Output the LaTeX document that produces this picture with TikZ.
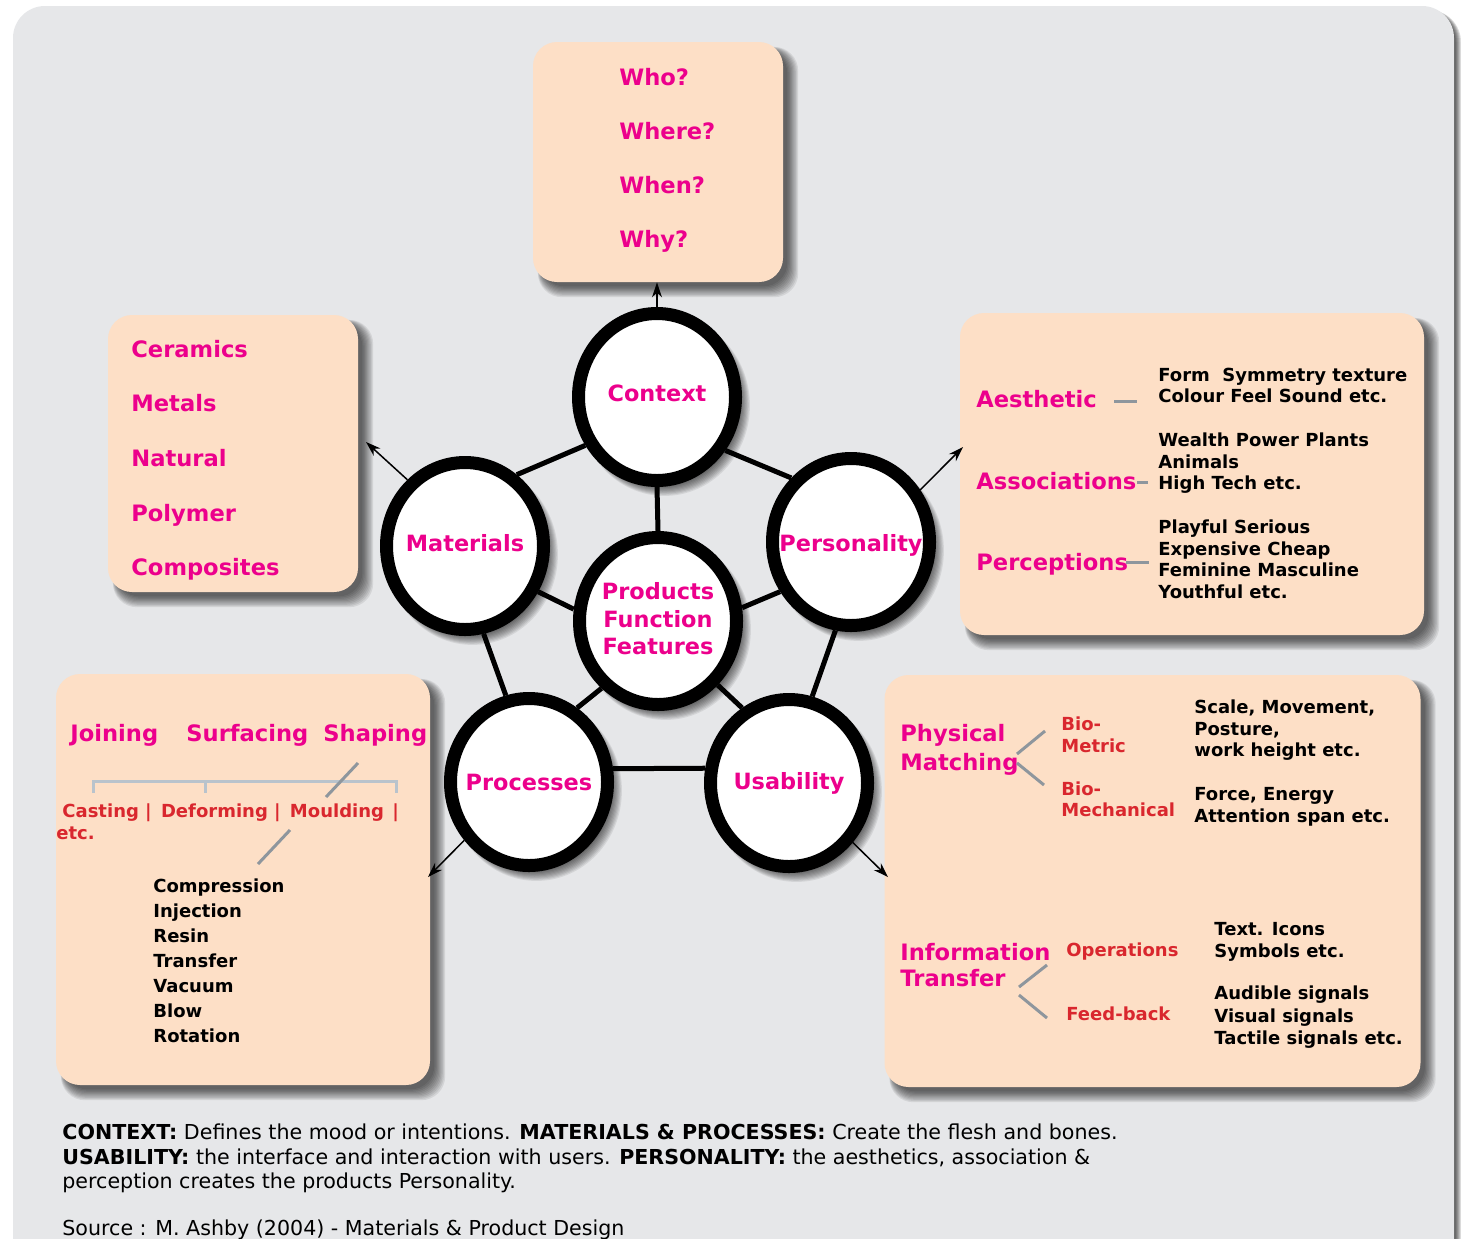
\documentclass[tikz,border=0pt]{standalone}
\usepackage{fontspec}
\setmainfont{DejaVu Sans}
\usetikzlibrary{arrows.meta,shapes.geometric,calc}
\pgfdeclarelayer{card}
\pgfdeclarelayer{shade}
\pgfsetlayers{card,shade,main}

\definecolor{pagegray}{HTML}{E6E7E9}
\definecolor{peach}{HTML}{FDDFC6}
\definecolor{hotpink}{HTML}{EC008C}
\definecolor{brick}{HTML}{D9272E}
\definecolor{twiggray}{HTML}{8E969D}
\definecolor{bracegray}{HTML}{B9C3CC}

\tikzset{
  panel/.style={fill=peach, rounded corners=12pt, inner sep=0pt},
  hub/.style={ellipse, draw=black, line width=6.5pt, fill=white, inner sep=0pt,
    minimum width=78.5pt, minimum height=83.5pt},
  hublabel/.style={text=hotpink, align=center, inner sep=0pt,
    font=\fontsize{11.2}{13.75}\selectfont\bfseries},
  softshade/.style={black, opacity=0.08},
  headtxt/.style={anchor=base west, inner sep=0pt, text=hotpink, font=\fontsize{11.3}{13}\selectfont\bfseries},
  subtxt/.style={anchor=base west, inner sep=0pt, text=brick, font=\fontsize{9}{11}\selectfont\bfseries},
  itemtxt/.style={anchor=base west, inner sep=0pt, text=black, font=\fontsize{9}{11}\selectfont\bfseries},
  notetxt/.style={anchor=base west, inner sep=0pt, text=black, font=\fontsize{10.3}{12.5}\selectfont},
  spoke/.style={line width=2.5pt},
  pointer/.style={line width=0.75pt, -{Stealth[length=7.5pt,width=5pt]}},
  twig/.style={twiggray, line width=1.5pt},
  brace/.style={bracegray, line width=1.5pt},
}

\begin{document}
\begin{tikzpicture}[x=0.5pt,y=-0.5pt]
\useasboundingbox (0,0) rectangle (1461,1238);

% page and grey card with a dark right-hand edge shadow
\begin{pgfonlayer}{card}
  \fill[white] (0,0) rectangle (1461,1238);
  \foreach \k in {0,...,6}
    \fill[black, opacity=0.13, rounded corners=16pt] (40,10) rectangle (1455+\k,1300);
  \fill[pagegray, rounded corners=16pt] (13,6) rectangle (1454,1300);
\end{pgfonlayer}

% peach panels
\node[panel, minimum width=125pt, minimum height=120pt]   (whobox)  at (658,162) {};
\node[panel, minimum width=125pt, minimum height=138.5pt] (matbox)  at (233,453.5) {};
\node[panel, minimum width=232pt, minimum height=161pt]   (perbox)  at (1192,474) {};
\node[panel, minimum width=187pt, minimum height=205.5pt] (procbox) at (243,879.5) {};
\node[panel, minimum width=268pt, minimum height=206pt]   (usabox)  at (1152.5,881) {};

% the six hubs
\node[hub, label={[hublabel, yshift=2pt]center:Context}]       (ctx)  at (657,397) {};
\node[hub, label={[hublabel, yshift=1.5pt]center:Materials}]   (mat)  at (465,546) {};
\node[hub, label={[hublabel, yshift=-1.5pt]center:Personality}] (per) at (851,542) {};
\node[hub, label={[hublabel, yshift=1pt]center:Products\\Function\\Features}] (prod) at (658,621) {};
\node[hub, label={[hublabel]center:Processes}]   (proc) at (529,782) {};
\node[hub, label={[hublabel]center:Usability}]   (usa)  at (789,783) {};

% soft drop shadows (right and below) under panels and hubs, then the spokes
\begin{pgfonlayer}{shade}
  \foreach \b in {whobox,matbox,perbox,procbox,usabox}
    \foreach \k in {0,...,9}
      \fill[softshade, rounded corners=12pt]
        ($(\b.south west)+(8-0.3*\k,4+1.2*\k)$) rectangle ($(\b.north east)+(4+1.2*\k,8-0.3*\k)$);
  \foreach \h in {ctx,mat,per,prod,proc,usa}
    \foreach \k in {0,...,9}
      \fill[softshade] ($(\h.center)+(3+0.5*\k,4+0.5*\k)$) ellipse [x radius=80+0.6*\k, y radius=85+0.6*\k];
  \draw[spoke] (ctx.214) -- (mat.54);
  \draw[spoke] (ctx.322) -- (per.133);
  \draw[spoke] (ctx.south) -- (prod.north);
  \draw[spoke] (mat.328) -- (prod.172);
  \draw[spoke] (per.215) -- (prod.9);
  \draw[spoke] (mat.282) -- (proc.105);
  \draw[spoke] (per.260) -- (usa.75);
  \draw[spoke] (proc.57) -- (prod.230);
  \draw[spoke] (usa.122) -- (prod.313);
  \draw[spoke] (proc.9) -- (usa.170);
\end{pgfonlayer}

% arrows from hubs to panels
\coordinate (matTip)  at (366,442);
\coordinate (perTip)  at (963,447);
\coordinate (procTip) at (428,877);
\coordinate (usaTip)  at (888,877);
\draw[pointer] (ctx.north) -- (ctx.north |- whobox.south);
\draw[pointer] (mat.131) -- (matTip);
\draw[pointer] (per.37) -- (perTip);
\draw[pointer] (proc.222) -- (procTip);
\draw[pointer] (usa.317) -- (usaTip);

% context questions
\foreach \w [count=\i] in {Who?,Where?,When?,Why?}
  \node[headtxt] (ask\i) at (619,30.7+54.3*\i) {\w};

% material families
\foreach \w [count=\i] in {Ceramics,Metals,Natural,Polymer,Composites}
  \node[headtxt] (fam\i) at (131,302.3+54.7*\i) {\w};

% personality panel
\node[headtxt] (aes)   at (976,407) {Aesthetic};
\node[headtxt] (assoc) at (976,489) {Associations};
\node[headtxt] (perc)  at (976,570) {Perceptions};
\draw[twig] (1114,401) -- (1137,401);
\draw[twig] (1137,482) -- (1148,482);
\draw[twig] (1126,562) -- (1149,562);
\foreach \y/\t [count=\i] in {381.5/{Form~~Symmetry texture},402.5/{Colour Feel Sound etc.},
    446.5/{Wealth Power Plants},468.5/{Animals},489.5/{High Tech etc.},
    533.5/{Playful Serious},555.5/{Expensive Cheap},576.5/{Feminine Masculine},598.5/{Youthful etc.}}
  \node[itemtxt] (trait\i) at (1158,\y) {\t};

% processes panel
\node[headtxt] (join) at (70,741) {Joining};
\node[headtxt] (surf) at (186,741) {Surfacing};
\node[headtxt] (shap) at (323,741) {Shaping};
\draw[brace] (93,793) -- (93,781.5) -- (396,781.5) -- (396,793);
\draw[brace] (205,781.5) -- (205,793);
\draw[twig] (358,763) -- (326,797);
\node[subtxt] (kinds) at (62,817.5) {Casting |\hspace{1.5pt} Deforming |\hspace{1.5pt} Moulding \hspace{1pt}|};
\node[subtxt] (kindsmore) at (56,839.5) {etc.};
\draw[twig] (290,830) -- (258,864);
\foreach \w [count=\i] in {Compression,Injection,Resin,Transfer,Vacuum,Blow,Rotation}
  \node[itemtxt] (mould\i) at (153,867.5+25*\i) {\w};

% usability panel
\node[headtxt] (phys)  at (900,741) {Physical};
\node[headtxt] (match) at (900,770) {Matching};
\draw[twig] (1017,754) -- (1045,731);
\draw[twig] (1017,763) -- (1044,785);
\node[subtxt] (biomA) at (1061,730) {Bio-};
\node[subtxt] (biomB) at (1061,752) {Metric};
\node[subtxt] (biomeA) at (1061,795) {Bio-};
\node[subtxt] (biomeB) at (1061,816.5) {Mechanical};
\foreach \y/\t [count=\i] in {713/{Scale, Movement,},735.5/{Posture,},756.5/{work height etc.},
    800.5/{Force, Energy},822/{Attention span etc.}}
  \node[itemtxt] (body\i) at (1194,\y) {\t};
\node[headtxt] (info)  at (900,960) {Information};
\node[headtxt] (trans) at (900,986) {Transfer};
\draw[twig] (1019,987) -- (1047,965);
\draw[twig] (1019,995) -- (1047,1018);
\node[subtxt] (oper) at (1066,956.5) {Operations};
\node[subtxt] (feed) at (1066,1020.5) {Feed-back};
\foreach \y/\t [count=\i] in {935.5/{Text. Icons},957.5/{Symbols etc.},
    999.5/{Audible signals},1022/{Visual signals},1044/{Tactile signals etc.}}
  \node[itemtxt] (signal\i) at (1214,\y) {\t};

% caption
\node[notetxt] (cap1) at (62,1139.5) {\textbf{CONTEXT:} Defines the mood or intentions. \textbf{MATERIALS \& PROCESSES:} Create the flesh and bones.};
\node[notetxt] (cap2) at (62,1164.5) {\textbf{USABILITY:} the interface and interaction with users. \textbf{PERSONALITY:} the aesthetics, association \&};
\node[notetxt] (cap3) at (62,1188.5) {perception creates the products Personality.};
\node[notetxt] (src)  at (62,1235) {Source : M. Ashby (2004) - Materials \& Product Design};
\end{tikzpicture}
\end{document}
